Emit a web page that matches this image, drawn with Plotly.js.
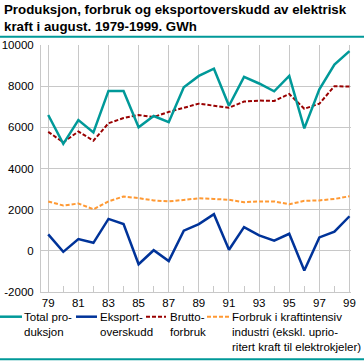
<!DOCTYPE html>
<html><head><meta charset="utf-8">
<script src="https://cdn.plot.ly/plotly-3.0.1.min.js"></script>
<style>html,body{margin:0;padding:0;background:#fff;}#chart{width:364px;height:361px;}</style>
</head><body><div id="chart"></div>
<script>
// ---- data ----
const years = [79,80,81,82,83,84,85,86,87,88,89,90,91,92,93,94,95,96,97,98,99];
const xTickVals = [79,81,83,85,87,89,91,93,95,97,99];
const xTickText = ["79","81","83","85","87","89","91","93","95","97","99"];
const xMinorVals = [80,82,84,86,88,90,92,94,96,98];
const yTickVals = [-2000,0,2000,4000,6000,8000,10000];
const yTickText = ["-2000","0","2000","4000","6000","8000","10000"];
const totalProduksjon = [6600,5200,6350,5750,7770,7770,6000,6550,6250,7950,8500,8850,7050,8450,8130,7750,8500,5950,7850,9050,9700];
const eksportoverskudd = [800,-50,570,390,1550,1300,-650,30,-500,980,1300,1780,50,1150,750,490,830,-960,650,930,1680];
const bruttoforbruk = [5780,5270,5800,5350,6200,6450,6600,6500,6750,6950,7150,7050,6950,7250,7300,7280,7620,6900,7150,8000,7980];
const kraftintensiv = [2400,2200,2300,2020,2400,2640,2560,2450,2400,2480,2550,2520,2480,2360,2400,2400,2260,2430,2450,2520,2650];
const seriesNames = ["Total pro-<br>duksjon","Eksport-<br>overskudd","Brutto-<br>forbruk","Forbruk i kraftintensiv<br>industri (ekskl. uprio-<br>ritert kraft til elektrokjeler)"];
const titleText = "Produksjon, forbruk og eksportoverskudd av elektrisk<br>kraft i august. 1979-1999. GWh";

// ---- styles / layout ----
const W = 364, H = 361;
const L = 41, R = 351, T = 45, B = 292;
const px = x => (x - L) / (R - L);
const py = y => (B - y) / (B - T);
const FONT = "Liberation Sans, Arial, sans-serif";
const styles = [
  {color:"#009999", width:2.5, dash:"solid"},
  {color:"#003399", width:2.5, dash:"solid"},
  {color:"#990000", width:2, dash:"4px,2px"},
  {color:"#ff9933", width:2, dash:"4px,2px"}
];
const seriesData = [totalProduksjon, eksportoverskudd, bruttoforbruk, kraftintensiv];
const traces = seriesData.map((ys, i) => ({
  x: years, y: ys, type: "scatter", mode: "lines",
  name: seriesNames[i], line: styles[i], hoverinfo: "skip"
}));
// draw order: orange, red, blue, teal on top
const ordered = [traces[3], traces[2], traces[1], traces[0]];

const legendPos = [{x0:0,x1:22,tx:23},{x0:76,x1:97,tx:99},{x0:146,x1:166,tx:169},{x0:207,x1:229,tx:231}];
const legendY = 316.7;
const shapes = [
  {type:"line", xref:"paper", yref:"paper", x0:px(0), x1:px(W), y0:py(36.7), y1:py(36.7), line:{color:"#009999", width:2}},
  {type:"line", xref:"paper", yref:"paper", x0:px(0), x1:px(W), y0:py(359.3), y1:py(359.3), line:{color:"#009999", width:2}}
];
const annotations = [
  {xref:"paper", yref:"paper", x:px(2), y:py(0), xanchor:"left", yanchor:"top", align:"left",
   showarrow:false, text:"<b>"+titleText.replace("<br>","</b><br><b>")+"</b>", font:{family:FONT, size:13.3, color:"#000"}}
];
legendPos.forEach((p, i) => {
  shapes.push({type:"line", xref:"paper", yref:"paper", x0:px(p.x0), x1:px(p.x1), y0:py(legendY), y1:py(legendY),
    line:{color:styles[i].color, width:styles[i].width, dash:styles[i].dash}});
  annotations.push({xref:"paper", yref:"paper", x:px(p.tx), y:py(310), xanchor:"left", yanchor:"top", align:"left",
    showarrow:false, text:seriesNames[i], font:{family:FONT, size:11.5, color:"#000"}, borderpad:0});
});

const layout = {
  width: W, height: H,
  margin: {l:L, r:W-R, t:T, b:H-B, pad:0},
  paper_bgcolor:"#fff", plot_bgcolor:"#fff",
  showlegend:false,
  font:{family:FONT, size:11.5, color:"#000"},
  xaxis:{
    range:[78.52, 99.1], tickmode:"array", tickvals:xTickVals, ticktext:xTickText,
    showgrid:true, gridcolor:"#c8c8c8", gridwidth:1, zeroline:false,
    showline:true, linecolor:"#c8c8c8", linewidth:1, ticks:"",
    minor:{tickmode:"array", tickvals:xMinorVals, ticks:"inside", ticklen:6, tickcolor:"#c8c8c8", tickwidth:1, showgrid:false},
    tickfont:{family:FONT, size:11.5, color:"#000"}, fixedrange:true
  },
  yaxis:{
    range:[-2000, 10000], tickmode:"array", tickvals:yTickVals, ticktext:yTickText,
    showgrid:true, gridcolor:"#c8c8c8", gridwidth:1, zeroline:false,
    showline:true, linecolor:"#c8c8c8", linewidth:1, ticks:"", ticklabelstandoff:4,
    tickfont:{family:FONT, size:11.5, color:"#000"}, fixedrange:true
  },
  shapes: shapes,
  annotations: annotations
};
Plotly.newPlot("chart", ordered, layout, {displayModeBar:false, staticPlot:true});
</script>
</body></html>
